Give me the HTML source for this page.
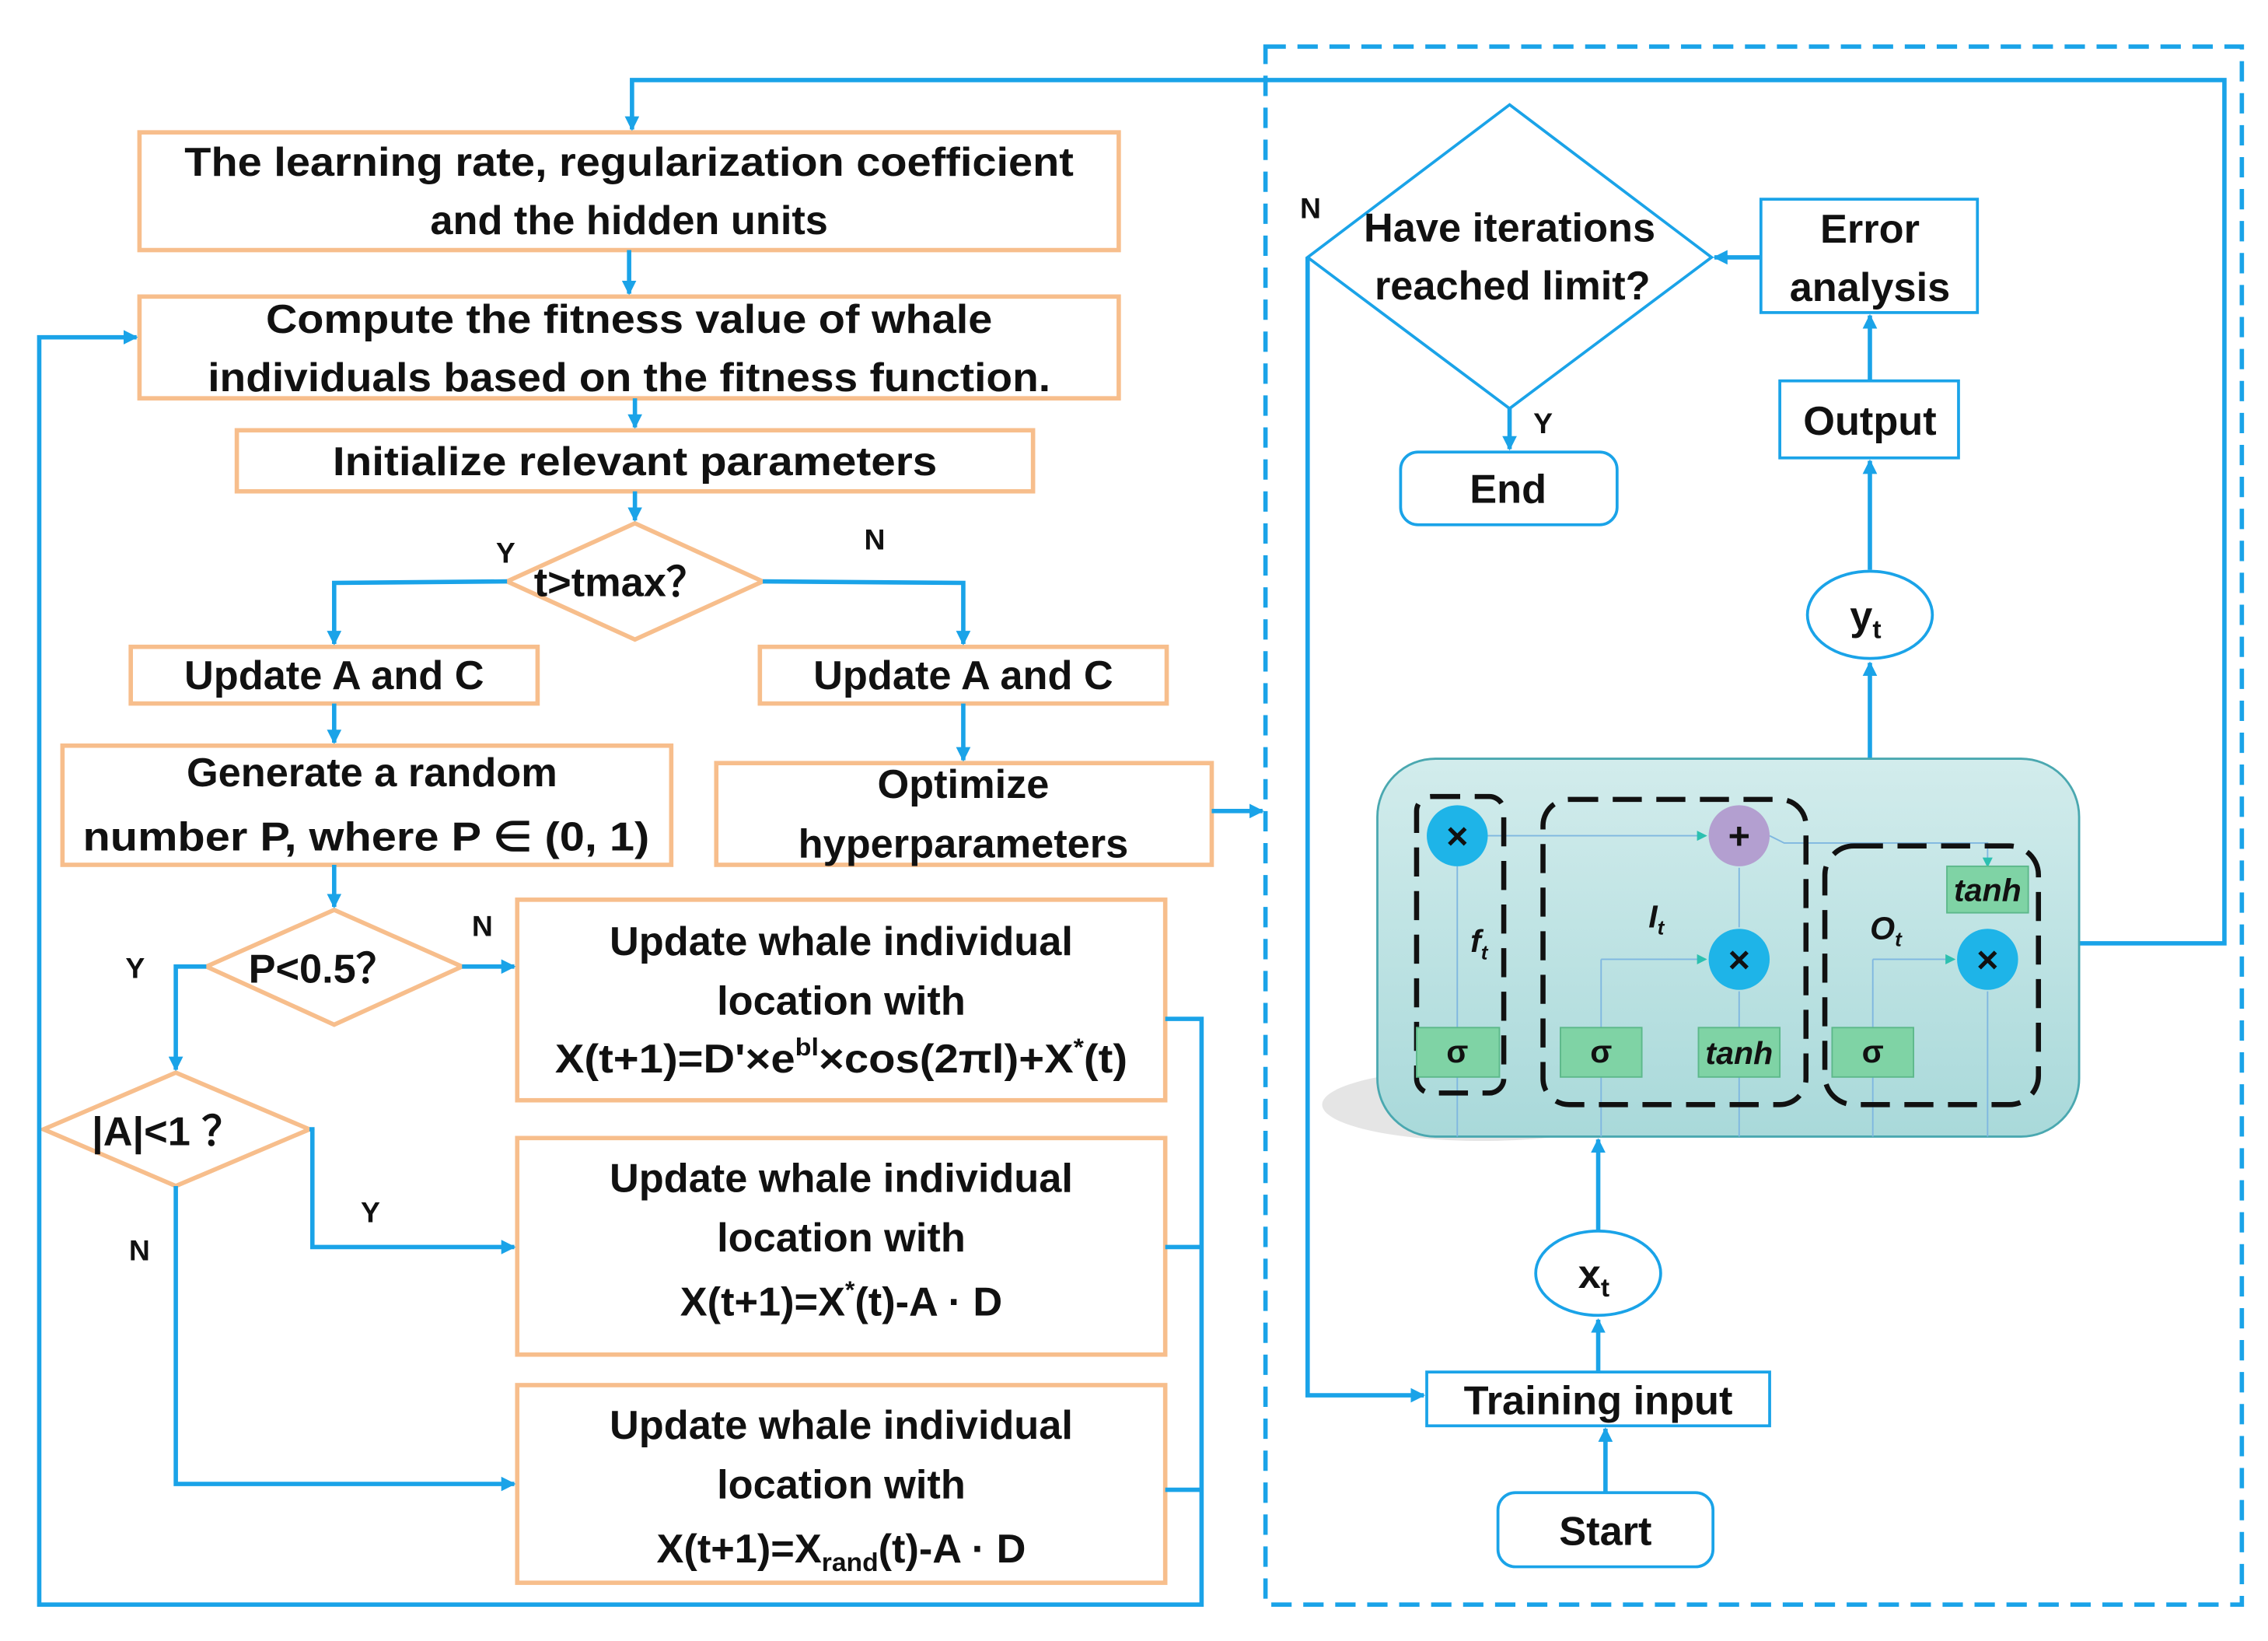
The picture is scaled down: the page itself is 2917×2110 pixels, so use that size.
<!DOCTYPE html>
<html><head><meta charset="utf-8"><style>
html,body{margin:0;padding:0;background:#fff}
svg{display:block}
text{font-family:"Liberation Sans",sans-serif;font-weight:bold;fill:#111}
</style></head><body>
<svg width="2917" height="2110" viewBox="0 0 1561 1129" xmlns="http://www.w3.org/2000/svg">
<defs>
<marker id="a" markerWidth="10" markerHeight="10" refX="9" refY="5" orient="auto" markerUnits="userSpaceOnUse"><path d="M0,0 L10,5 L0,10 z" fill="#1AA3E8"/></marker>
<marker id="s" markerWidth="7" markerHeight="7" refX="6" refY="3.5" orient="auto" markerUnits="userSpaceOnUse"><path d="M0,0 L7,3.5 L0,7 z" fill="#2cc0b0"/></marker>
<linearGradient id="g" x1="0" y1="0" x2="0" y2="1"><stop offset="0" stop-color="#d2ecec"/><stop offset="1" stop-color="#a9d9da"/></linearGradient>
</defs>
<g fill="#fff" stroke="#F7BE8C" stroke-width="3">
<rect x="96" y="91" width="674" height="81"/>
<rect x="96" y="204" width="674" height="70"/>
<rect x="163" y="296" width="548" height="42"/>
<polygon points="349,400 437,360 525,400 437,440"/>
<rect x="90" y="445" width="280" height="39"/>
<rect x="523" y="445" width="280" height="39"/>
<rect x="43" y="513" width="419" height="82"/>
<rect x="493" y="525" width="341" height="70"/>
<polygon points="142,665 230,626 318,665 230,705"/>
<polygon points="30,777 121,738 213,777 121,816"/>
<rect x="356" y="619" width="446" height="138"/>
<rect x="356" y="783" width="446" height="149"/>
<rect x="356" y="953" width="446" height="136"/>
</g>
<g fill="none" stroke="#1AA3E8" stroke-width="3">
<polyline points="1431,649 1531,649 1531,55 435,55 435,89" marker-end="url(#a)"/>
<line x1="433" y1="172" x2="433" y2="202" marker-end="url(#a)"/>
<line x1="437" y1="274" x2="437" y2="294" marker-end="url(#a)"/>
<line x1="437" y1="338" x2="437" y2="358" marker-end="url(#a)"/>
<polyline points="349,400 230,401 230,443" marker-end="url(#a)"/>
<polyline points="525,400 663,401 663,443" marker-end="url(#a)"/>
<line x1="230" y1="484" x2="230" y2="511" marker-end="url(#a)"/>
<line x1="663" y1="484" x2="663" y2="523" marker-end="url(#a)"/>
<line x1="230" y1="595" x2="230" y2="624" marker-end="url(#a)"/>
<line x1="834" y1="558" x2="869" y2="558" marker-end="url(#a)"/>
<line x1="318" y1="665" x2="354" y2="665" marker-end="url(#a)"/>
<polyline points="142,665 121,665 121,736" marker-end="url(#a)"/>
<polyline points="213,777 215,777 215,858 354,858" marker-end="url(#a)"/>
<polyline points="121,816 121,1021 354,1021" marker-end="url(#a)"/>
<polyline points="802,701 827,701 827,1104 27,1104 27,232 94,232" marker-end="url(#a)"/>
<line x1="802" y1="858" x2="827" y2="858"/>
<line x1="802" y1="1025" x2="827" y2="1025"/>
<rect x="871" y="32" width="672" height="1072" stroke-dasharray="14,8"/>
<line x1="1287" y1="262" x2="1287" y2="217" marker-end="url(#a)"/>
<line x1="1212" y1="177" x2="1180" y2="177" marker-end="url(#a)"/>
<line x1="1287" y1="392" x2="1287" y2="317" marker-end="url(#a)"/>
<line x1="1287" y1="522" x2="1287" y2="456" marker-end="url(#a)"/>
<line x1="1039" y1="281" x2="1039" y2="309" marker-end="url(#a)"/>
<polyline points="900,177 900,960 980,960" marker-end="url(#a)"/>
<line x1="1100" y1="847" x2="1100" y2="784" marker-end="url(#a)"/>
<line x1="1100" y1="944" x2="1100" y2="908" marker-end="url(#a)"/>
<line x1="1105" y1="1027" x2="1105" y2="983" marker-end="url(#a)"/>
</g>
<g fill="#fff" stroke="#1AA3E8" stroke-width="2">
<polygon points="1039,72 1178,177 1039,281 900,177"/>
<rect x="1212" y="137" width="149" height="78"/>
<rect x="1225" y="262" width="123" height="53"/>
<ellipse cx="1287" cy="423" rx="43" ry="30"/>
<rect x="964" y="311" width="149" height="50" rx="12"/>
<ellipse cx="1100" cy="876" rx="43" ry="29"/>
<rect x="982" y="944" width="236" height="37"/>
<rect x="1031" y="1027" width="148" height="51" rx="12"/>
</g>
<ellipse cx="1020" cy="760" rx="110" ry="25" fill="#ccc" opacity="0.5"/>
<rect x="948" y="522" width="483" height="260" rx="40" fill="url(#g)" stroke="#4aa8b0" stroke-width="1.5"/>
<g stroke="#7fb7e0" stroke-width="1" fill="none">
<line x1="1003" y1="782" x2="1003" y2="596"/><line x1="1102" y1="782" x2="1102" y2="660"/>
<line x1="1102" y1="660" x2="1174" y2="660" marker-end="url(#s)"/>
<line x1="1197" y1="782" x2="1197" y2="682"/><line x1="1197" y1="638" x2="1197" y2="597"/>
<line x1="1289" y1="782" x2="1289" y2="660"/><line x1="1289" y1="660" x2="1345" y2="660" marker-end="url(#s)"/>
<line x1="1368" y1="782" x2="1368" y2="682"/>
<line x1="1024" y1="575" x2="1174" y2="575" marker-end="url(#s)"/>
<polyline points="1218,575 1228,580 1368,580 1368,596" marker-end="url(#s)"/>
</g>
<g fill="none" stroke="#111" stroke-width="3.5" stroke-dasharray="20,10">
<rect x="975" y="548" width="60" height="204" rx="10"/>
<rect x="1062" y="550" width="181" height="210" rx="18"/>
<rect x="1256" y="582" width="147" height="178" rx="20"/>
</g>
<g fill="#7fd3a5" stroke="#5cb88a">
<rect x="975" y="707" width="57" height="34"/><rect x="1074" y="707" width="56" height="34"/>
<rect x="1169" y="707" width="56" height="34"/><rect x="1261" y="707" width="56" height="34"/>
<rect x="1340" y="596" width="56" height="32"/>
</g>
<circle cx="1003" cy="575" r="21" fill="#1EB4E8"/><circle cx="1197" cy="575" r="21" fill="#b39fd0"/>
<circle cx="1197" cy="660" r="21" fill="#1EB4E8"/><circle cx="1368" cy="660" r="21" fill="#1EB4E8"/>
<g text-anchor="middle" font-size="26" style="font-weight:normal">
<text x="1003" y="584">×</text><text x="1197" y="584">+</text><text x="1197" y="669">×</text><text x="1368" y="669">×</text>
</g>
<g text-anchor="middle" font-size="22">
<text x="1003" y="731">σ</text><text x="1102" y="731">σ</text><text x="1289" y="731">σ</text>
</g>
<g text-anchor="middle" font-size="22" style="font-family:'Liberation Serif',serif;font-style:italic;font-weight:normal">
<text x="1197" y="732">tanh</text><text x="1368" y="620">tanh</text>
<text x="1018" y="655">f<tspan font-size="14" dy="5">t</tspan></text>
<text x="1140" y="638">I<tspan font-size="14" dy="5">t</tspan></text>
<text x="1298" y="646">O<tspan font-size="14" dy="5">t</tspan></text>
</g>
<g text-anchor="middle" font-size="28">
<text x="433" y="121" textLength="612" lengthAdjust="spacingAndGlyphs">The learning rate, regularization coefficient</text>
<text x="433" y="161">and the hidden units</text>
<text x="433" y="229" textLength="500" lengthAdjust="spacingAndGlyphs">Compute the fitness value of whale</text>
<text x="433" y="269" textLength="580" lengthAdjust="spacingAndGlyphs">individuals based on the fitness function.</text>
<text x="437" y="327" textLength="416" lengthAdjust="spacingAndGlyphs">Initialize relevant parameters</text>
<text x="427" y="410">t&gt;tmax？</text>
<text x="230" y="474">Update A and C</text>
<text x="663" y="474">Update A and C</text>
<text x="256" y="541">Generate a random</text>
<text x="252" y="585" textLength="390" lengthAdjust="spacingAndGlyphs">number P, where P ∈ (0, 1)</text>
<text x="663" y="549">Optimize</text>
<text x="663" y="590">hyperparameters</text>
<text x="222" y="676">P&lt;0.5？</text>
<text x="115" y="788">|A|&lt;1 ？</text>
<text x="579" y="657">Update whale individual</text>
<text x="579" y="698">location with</text>
<text x="579" y="738" textLength="394" lengthAdjust="spacingAndGlyphs">X(t+1)=D'×e<tspan font-size="17" dy="-12">bl</tspan><tspan dy="12">×cos(2πl)+X</tspan><tspan font-size="17" dy="-12">*</tspan><tspan dy="12">(t)</tspan></text>
<text x="579" y="820">Update whale individual</text>
<text x="579" y="861">location with</text>
<text x="579" y="905">X(t+1)=X<tspan font-size="17" dy="-12">*</tspan><tspan dy="12">(t)-A · D</tspan></text>
<text x="579" y="990">Update whale individual</text>
<text x="579" y="1031">location with</text>
<text x="579" y="1075">X(t+1)=X<tspan font-size="18" dy="6">rand</tspan><tspan dy="-6">(t)-A · D</tspan></text>
<text x="1039" y="166">Have iterations</text>
<text x="1041" y="206">reached limit?</text>
<text x="1287" y="167">Error</text>
<text x="1287" y="207">analysis</text>
<text x="1287" y="299">Output</text>
<text x="1038" y="346">End</text>
<text x="1284" y="433">y<tspan font-size="18" dy="6">t</tspan></text>
<text x="1097" y="886">x<tspan font-size="18" dy="6">t</tspan></text>
<text x="1100" y="973">Training input</text>
<text x="1105" y="1063">Start</text>
</g>
<g text-anchor="middle" font-size="20">
<text x="348" y="387">Y</text><text x="602" y="378">N</text><text x="332" y="644">N</text>
<text x="93" y="673">Y</text><text x="255" y="841">Y</text><text x="96" y="867">N</text>
<text x="1062" y="298">Y</text><text x="902" y="150">N</text>
</g>
</svg>
</body></html>
